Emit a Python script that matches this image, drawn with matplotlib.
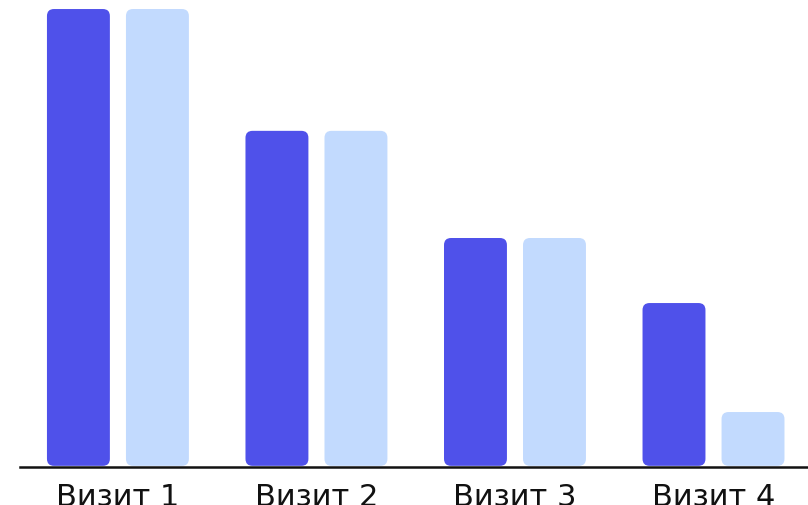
import numpy as np
import matplotlib.pyplot as plt
from matplotlib.patches import FancyBboxPatch

# visits and values (top bar = 100)
visits = ['Визит 1', 'Визит 2', 'Визит 3', 'Визит 4']
series_a = [100, 73.4, 50, 35.8]
series_b = [100, 73.4, 50, 12]

color_a = '#4F51EA'
color_b = '#C2DAFE'

fig = plt.figure(figsize=(8.08, 5.05), dpi=100)
ax = fig.add_axes([0, 0, 1, 1])

x = np.arange(len(visits))
width = 0.317
offset = 0.199

xlim = (-0.594, 3.476)
ylim = (-8.3, 101.97)
ax.set_xlim(*xlim)
ax.set_ylim(*ylim)

# rounding: keep corners circular in pixel space
px_x = (xlim[1] - xlim[0]) / 808
px_y = (ylim[1] - ylim[0]) / 505
aspect = px_y / px_x
radius = 7 * px_x

def rounded_bars(xs, heights, color):
    for xc, h in zip(xs, heights):
        p = FancyBboxPatch((xc - width / 2, 0.25), width, h - 0.25,
                           boxstyle=f'round,pad=0,rounding_size={radius}',
                           mutation_aspect=aspect, fc=color, ec='none')
        ax.add_patch(p)

rounded_bars(x - offset, series_a, color_a)
rounded_bars(x + offset, series_b, color_b)

ax.axhline(0, xmin=(20 / 808), xmax=1, color='#111111', lw=1.8)

# labels sit low, partly cut by the bottom edge as in the original
for xi, label in zip(x, visits):
    ax.text(xi, -8.6, label, ha='center', va='baseline', fontsize=22,
            family=['DejaVu Sans'], color='#111111')

ax.axis('off')
fig.savefig('out.png', dpi=100)
